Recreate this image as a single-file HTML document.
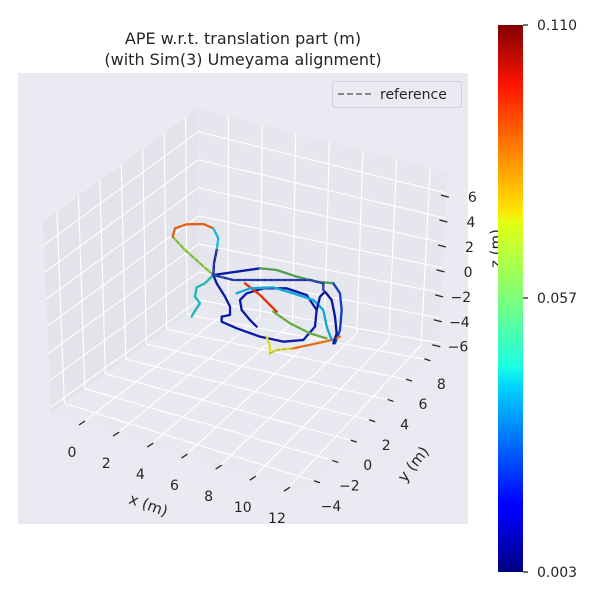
<!DOCTYPE html>
<html><head><meta charset="utf-8"><style>
body{margin:0;background:#fff;}
svg text{font-family:"DejaVu Sans","Liberation Sans",sans-serif;fill:#262626;}
</style></head><body>
<svg id="s" width="600" height="600" viewBox="0 0 600 600" xmlns="http://www.w3.org/2000/svg">
<defs>
<linearGradient id="jet" x1="0" y1="1" x2="0" y2="0">
<stop offset="0" stop-color="#00007f"/>
<stop offset="0.11" stop-color="#0000ff"/>
<stop offset="0.125" stop-color="#0000ff"/>
<stop offset="0.34" stop-color="#00d4ff"/>
<stop offset="0.375" stop-color="#1affe4"/>
<stop offset="0.5" stop-color="#7dff7a"/>
<stop offset="0.64" stop-color="#e4ff13"/>
<stop offset="0.66" stop-color="#ffe600"/>
<stop offset="0.89" stop-color="#ff1400"/>
<stop offset="1" stop-color="#800000"/>
</linearGradient>
</defs>
<rect x="18" y="73" width="450" height="451" fill="#eaeaf2"/>
<g id="panes"></g>
<g id="grid" stroke="#fff" stroke-width="1.1" fill="none"></g>
<g id="ticks" stroke="#262626" stroke-width="1.3"></g>
<g id="lbl" font-size="14"></g>
<g transform="translate(150,200) scale(0.33333)" fill="none" stroke-linecap="round" stroke-linejoin="round" stroke-width="7">
<path d="M190,225 L150,190 L100,145 L68,110" stroke="#8fd63a"/>
<path d="M68,110 L75,85 L110,73 L160,72 L190,85" stroke="#ff5a00"/>
<path d="M190,85 L205,115 L200,150" stroke="#17c8e8"/>
<path d="M200,150 L192,190 L190,225" stroke="#0a1aa0"/>
<path d="M190,225 L165,250 L140,262 L135,290 L150,310 L130,340 L125,350" stroke="#20b8b0"/>
<path d="M190,225 L200,250 L225,290 L240,320 L240,345 L215,350 L215,365 L260,385 L330,410 L400,425 L460,420 L495,380 L500,330 L470,285 L410,265 L340,265 L290,280 L270,300 L275,330 L300,360 L320,380" stroke="#0a1aa8"/>
<path d="M190,225 L260,215 L330,205" stroke="#0a1aa8"/>
<path d="M330,205 L380,210 L440,230 L500,245 L550,250" stroke="#4aa84a"/>
<path d="M550,250 L570,280 L575,330 L570,390 L555,430" stroke="#1040c0"/>
<path d="M190,225 L250,240 L320,240 L400,240 L480,240 L520,250 L520,270" stroke="#0a2ab8"/>
<path d="M360,460 L380,450 L430,445" stroke="#e8e020"/>
<path d="M430,445 L500,430 L545,420 L570,410" stroke="#ff7000"/>
<path d="M285,250 L330,285 L370,325 L380,335" stroke="#e83000"/>
<path d="M370,335 L420,370 L480,400 L530,415" stroke="#6ab840"/>
<path d="M260,280 L300,265 L370,262 L430,280 L490,300 L520,330 L530,380 L545,420" stroke="#10a8d8"/>
<path d="M500,330 L510,290 L525,275 L545,300 L555,350 L560,400 L550,430" stroke="#0818a0"/>
<path d="M350,410 L360,440 L360,462" stroke="#d8e020"/>
<g stroke="#777" stroke-width="3" stroke-dasharray="12,8" opacity="0.6">
<path d="M190,225 L150,190 L100,145 L68,110 L75,85 L110,73 L160,72 L190,85 L205,115 L200,150 L192,190 L190,225"/>
<path d="M190,225 L250,240 L320,240 L400,240 L480,240 L520,250 L520,270"/>
<path d="M330,205 L380,210 L440,230 L500,245 L550,250"/>
<path d="M370,335 L420,370 L480,400 L530,415"/>
<path d="M360,460 L380,450 L430,445 L500,430 L545,420 L570,410"/>
</g>
</g>
<text x="243" y="44" font-size="16" text-anchor="middle">APE w.r.t. translation part (m)</text>
<text x="243" y="65" font-size="16" text-anchor="middle">(with Sim(3) Umeyama alignment)</text>
<rect x="332.5" y="81.5" width="129" height="26" rx="3" fill="#eaeaf2" stroke="#d0d0d8"/>
<line x1="338" y1="94" x2="372" y2="94" stroke="#666" stroke-width="1.6" stroke-dasharray="6,3"/>
<text x="380" y="99" font-size="14">reference</text>
<text font-size="15" transform="translate(128,503) rotate(20)">x (m)</text>
<text font-size="15" transform="translate(405,483) rotate(-52)">y (m)</text>
<text font-size="15" transform="translate(501,268) rotate(-90)">z (m)</text>
<rect x="498" y="25" width="25" height="547" fill="url(#jet)"/>
<g stroke="#262626" stroke-width="1.3"><line x1="523" y1="25" x2="528" y2="25"/><line x1="523" y1="298" x2="528" y2="298"/><line x1="523" y1="572" x2="528" y2="572"/></g>
<text x="537" y="30" font-size="14">0.110</text>
<text x="537" y="303" font-size="14">0.057</text>
<text x="537" y="577" font-size="14">0.003</text>
</svg>
<script>
var BL=[51,413],BF=[305,495],BR=[438,348],BB=[199,306],TL=[43,222],TB=[198,108],TR=[448,172],TF=[293,286];
function L(a,b,t){return [a[0]+(b[0]-a[0])*t,a[1]+(b[1]-a[1])*t];}
function P(u,v,w){var b=L(L(BL,BF,u),L(BB,BR,u),v),t=L(L(TL,TF,u),L(TB,TR,u),v);return L(b,t,w);}
var NS="http://www.w3.org/2000/svg";
function el(g,n,a){var e=document.createElementNS(NS,n);for(var k in a)e.setAttribute(k,a[k]);document.getElementById(g).appendChild(e);return e;}
function poly(g,pts,f){el(g,"polygon",{points:pts.map(function(p){return p.join(",")}).join(" "),fill:f});}
poly("panes",[BL,BB,TB,TL],"#e3e3eb");
poly("panes",[BB,BR,TR,TB],"#e6e6ee");
poly("panes",[BL,BF,BR,BB],"#e8e8f0");
function ln(g,a,b){el(g,"line",{x1:a[0],y1:a[1],x2:b[0],y2:b[1]});}
var xs=[],ys=[],zs=[];
for(var i=0;i<7;i++){xs.push(0.122+i*(0.807/6));ys.push(0.09+i*(0.83/6));zs.push(0.03+i*(0.85/6));}
xs.forEach(function(u){ln("grid",P(u,0,0),P(u,1,0));ln("grid",P(u,1,0),P(u,1,1));});
ys.forEach(function(v){ln("grid",P(0,v,0),P(1,v,0));ln("grid",P(0,v,0),P(0,v,1));});
zs.forEach(function(w){ln("grid",P(0,0,w),P(0,1,w));ln("grid",P(0,1,w),P(1,1,w));});
var xl=["0","2","4","6","8","10","12"],yl=["\u22124","\u22122","0","2","4","6","8"],zl=["\u22126","\u22124","\u22122","0","2","4","6"];
xs.forEach(function(u,i){var p=P(u,0,0);ln("ticks",[p[0]-3,p[1]+2],[p[0]+3,p[1]-2]);var t=el("lbl","text",{x:p[0]-10,y:p[1]+34,"text-anchor":"middle"});t.textContent=xl[i];});
ys.forEach(function(v,i){var p=P(1,v,0);ln("ticks",[p[0]-3,p[1]-1],[p[0]+3,p[1]+1]);var t=el("lbl","text",{x:p[0]+14,y:p[1]+29,"text-anchor":"middle"});t.textContent=yl[i];});
zs.forEach(function(w,i){var p=P(1,1,w);ln("ticks",[p[0]-6,p[1]+2],[p[0]+2,p[1]+4]);var t=el("lbl","text",{x:p[0]+30,y:p[1]+9,"text-anchor":"end"});t.textContent=zl[i];});
</script>
</body></html>
